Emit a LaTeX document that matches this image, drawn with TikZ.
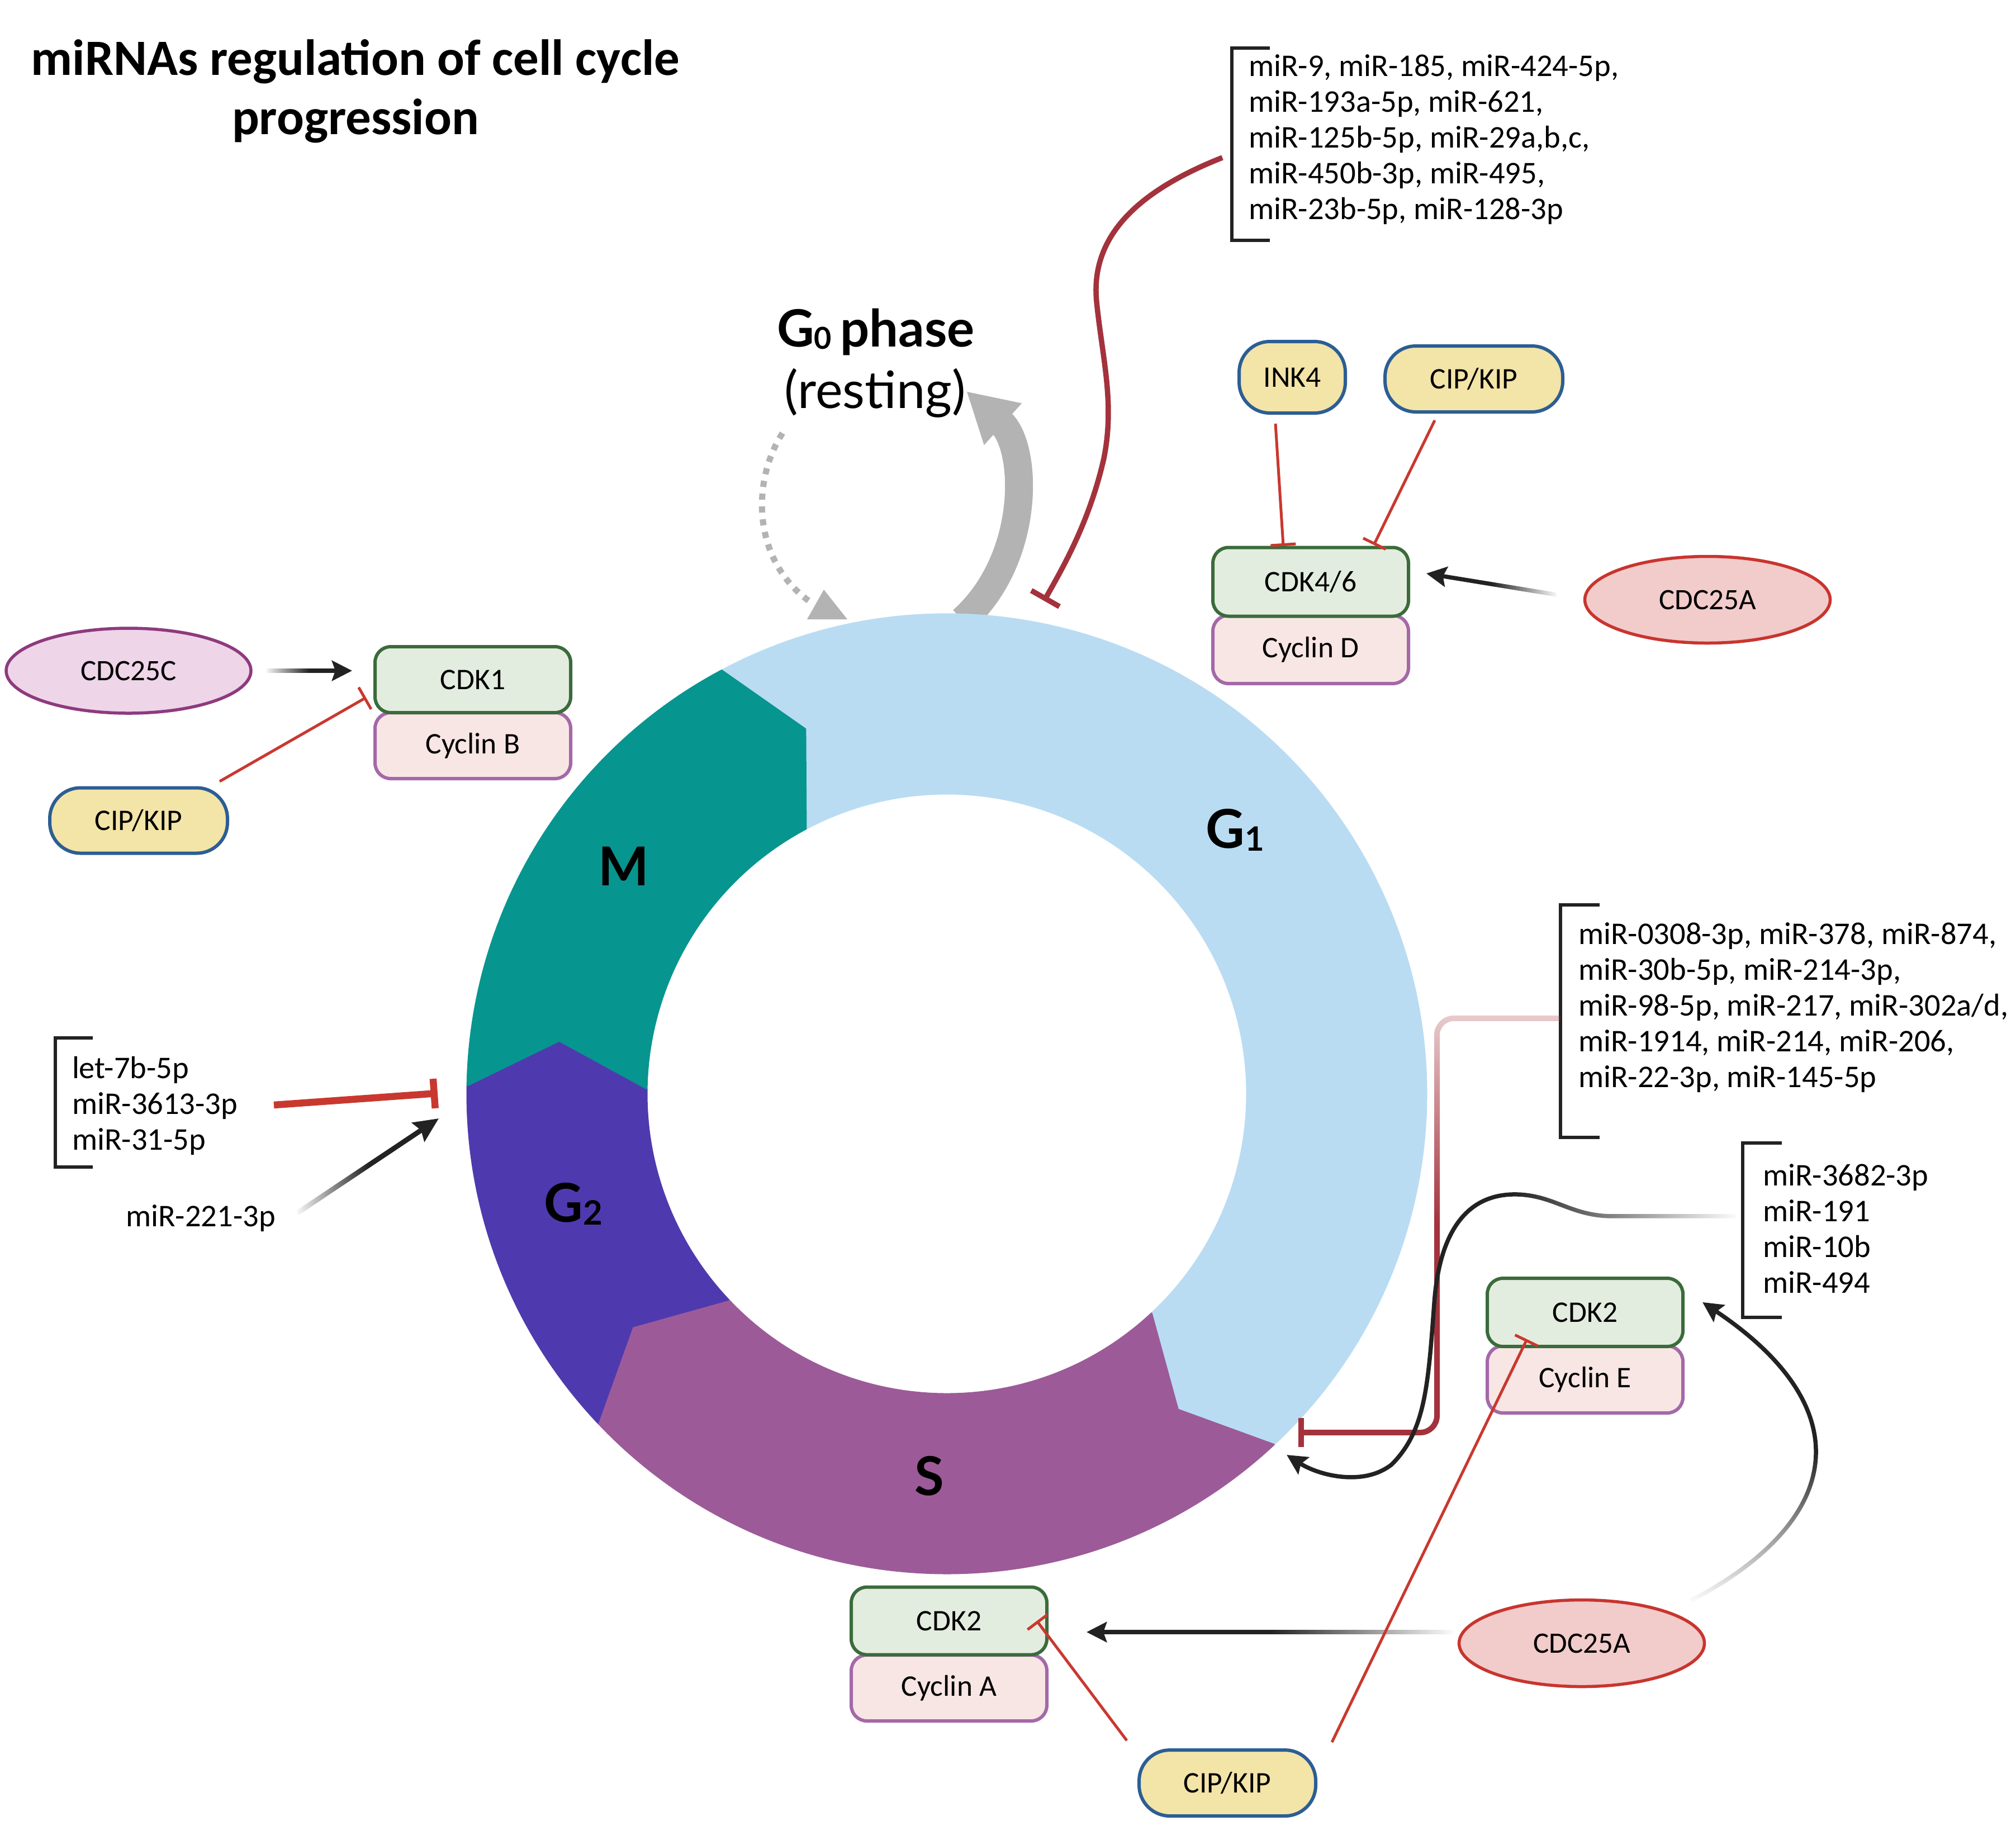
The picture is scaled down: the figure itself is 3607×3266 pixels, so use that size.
\documentclass[tikz,border=0pt]{standalone}
\usepackage{fontspec}
\setmainfont{Carlito}
\newfontfamily\latofont{Lato}
\usetikzlibrary{arrows.meta,shapes.geometric,fadings}

\definecolor{gonecol}{HTML}{B9DCF3}
\definecolor{mcol}{HTML}{07958F}
\definecolor{gtwocol}{HTML}{4E3AAE}
\definecolor{scol}{HTML}{9C5B98}
\definecolor{cdkfill}{HTML}{E3EDDF}
\definecolor{cdkline}{HTML}{3B6B3B}
\definecolor{cycfill}{HTML}{F8E6E4}
\definecolor{cycline}{HTML}{A468A8}
\definecolor{pillfill}{HTML}{F3E4A8}
\definecolor{pillline}{HTML}{2C5E94}
\definecolor{cdcafill}{HTML}{F2CBCB}
\definecolor{cdcaline}{HTML}{C8352E}
\definecolor{cdccfill}{HTML}{EED5E8}
\definecolor{cdccline}{HTML}{8E3A7E}
\definecolor{inhred}{HTML}{C9382F}
\definecolor{darkred}{HTML}{A3323C}
\definecolor{arrowgray}{HTML}{B3B3B3}
\definecolor{ink}{HTML}{222222}

\tikzfading[name=fadeeasthalf, left color=transparent!0, right color=transparent!100, middle color=transparent!0]
\tikzfading[name=fadewesthalf, left color=transparent!100, right color=transparent!0, middle color=transparent!0]
\tikzfading[name=fadesouthhalf, top color=transparent!0, bottom color=transparent!100, middle color=transparent!0]
\tikzfading[name=redelbow, top color=transparent!75, bottom color=transparent!0, middle color=transparent!0]

\newcommand\ringseg[3]{%
  \path[fill=#1, draw=#1, line width=0.3pt, line join=round]
    (#2:858) arc[start angle=#2, end angle=#3, radius=858]
    -- ({#3-6.8}:700) -- (#3:537)
    arc[start angle=#3, end angle=#2, radius=537]
    -- ({#2-6.8}:700) -- cycle;}
\newcommand\subdig[2]{\raisebox{-0.45pt}{\fontsize{#1}{#1}\selectfont #2}}

\begin{document}
\begin{tikzpicture}[x=0.1pt,y=-0.1pt,
  cdkbox/.style={draw=cdkline, fill=cdkfill, line width=0.6pt, rounded corners=2.8pt,
    minimum width=35pt, minimum height=12.2pt, inner sep=0pt, font=\fontsize{5.35}{6.2}\selectfont},
  cycbox/.style={draw=cycline, fill=cycfill, line width=0.6pt, rounded corners=2.8pt,
    minimum width=35pt, minimum height=12pt, inner sep=0pt, font=\fontsize{5.35}{6.2}\selectfont},
  pill/.style={draw=pillline, fill=pillfill, line width=0.6pt, rounded corners=5.5pt,
    minimum height=11.8pt, inner sep=0pt, font=\fontsize{5.35}{6.2}\selectfont},
  cdcA/.style={ellipse, draw=cdcaline, fill=cdcafill, line width=0.55pt,
    minimum width=43.9pt, minimum height=15.5pt, inner sep=0pt, font=\fontsize{5.3}{6.2}\selectfont},
  mirlist/.style={anchor=west, align=left, inner sep=0pt, font=\fontsize{5.65}{6.4}\selectfont},
  bracketline/.style={draw=ink, line width=0.65pt},
  inh/.style={draw=inhred, line width=0.5pt, -{Bar[width=4.5pt]}},
  act/.style={draw=ink, line width=0.75pt, -{Stealth[length=3.6pt,width=3.6pt,inset=0.6pt]}},
  phaselabel/.style={font=\latofont\bfseries\fontsize{9.6}{11}\selectfont, inner sep=0pt}]

\fill[white] (0,0) rectangle (3607,3266);
\useasboundingbox (0,0) rectangle (3607,3266);

% ---- title
\node[anchor=base, inner sep=0pt, font=\bfseries\fontsize{9.1}{10.6}\selectfont] (title1) at (636,134) {miRNAs regulation of cell cycle};
\node[anchor=base, inner sep=0pt, font=\bfseries\fontsize{9.1}{10.6}\selectfont] (title2) at (636,240) {progression};

% ---- G0
\node[anchor=base, inner sep=0pt, font=\latofont\bfseries\fontsize{9.2}{11}\selectfont] (g0a) at (1567,620) {G\subdig{5.4}{0}\,phase};
\node[anchor=base, inner sep=0pt, font=\latofont\fontsize{9.2}{11}\selectfont] (g0b) at (1566,730) {(resting)};

\coordinate (dotS) at (1400,775);
\coordinate (dotE) at (1447,1075);
\draw[arrowgray, line width=1.1pt, dash pattern=on 1.1pt off 1.2pt] (dotS) .. controls (1345,860) and (1345,1000) .. (dotE);
\coordinate (triA) at (1474,1055);
\coordinate (triB) at (1444,1108);
\coordinate (triC) at (1516,1108);
\fill[arrowgray] (triA) -- (triB) -- (triC) -- cycle;

\coordinate (thS) at (1722,1110);
\coordinate (thE) at (1729,700);
\draw[arrowgray, line width=5pt, -{Triangle[length=8.8pt,width=9.4pt]}] (thS) .. controls (1845,1000) and (1840,800) .. (thE);

% ---- ring
\begin{scope}[shift={(1694,1957)}, yscale=-1]
  \ringseg{gonecol}{118}{-47}
  \ringseg{scol}{-47}{-136.7}
  \ringseg{gtwocol}{-136.7}{-181}
  \ringseg{mcol}{-181}{-242}
\end{scope}

\node[phaselabel] (lg1) at (2210,1485) {G\subdig{6}{1}};
\node[phaselabel] (lm) at (1116,1550) {M};
\node[phaselabel] (lg2) at (1026,2154) {G\subdig{6}{2}};
\node[phaselabel] (ls) at (1663,2641) {S};

% ---- top list
\node[mirlist] (listA) at (2232,250) {miR-9, miR-185, miR-424-5p,\\miR-193a-5p, miR-621,\\miR-125b-5p, miR-29a,b,c,\\miR-450b-3p, miR-495,\\miR-23b-5p, miR-128-3p};
\coordinate (bA1) at (2272,86); \coordinate (bA2) at (2204,86);
\coordinate (bA3) at (2204,430); \coordinate (bA4) at (2272,430);
\draw[bracketline] (bA1) -- (bA2) -- (bA3) -- (bA4);

\coordinate (rcS) at (2187,282);
\coordinate (rcE) at (1868,1075);
\draw[darkred, line width=0.95pt, -{Bar[width=5.8pt]}] (rcS) .. controls (2040,340) and (1950,420) .. (1962,540) .. controls (1972,640) and (1995,720) .. (1975,820) .. controls (1950,930) and (1905,1010) .. (rcE);

% ---- CDK4/6 group
\node[pill, minimum width=19pt, minimum height=12.8pt] (ink4) at (2312,675) {INK4};
\node[pill, minimum width=31.8pt] (cipT) at (2637,678) {CIP/KIP};
\node[cycbox, minimum height=12.2pt] (cycD) at (2345,1162) {Cyclin D};
\node[cdkbox, minimum height=12.3pt] (cdk46) at (2345,1041) {CDK4/6};
\node[cdcA] (cdcaT) at (3055,1073) {CDC25A};

\coordinate (i1s) at (2282,758); \coordinate (i1e) at (2296,977);
\draw[inh] (i1s) -- (i1e);
\coordinate (i2s) at (2567,752); \coordinate (i2e) at (2458,975);
\draw[inh] (i2s) -- (i2e);
\coordinate (a1s) at (2785,1064); \coordinate (a1e) at (2552,1026);
\draw[act, path fading=fadeeasthalf] (a1s) -- (a1e);

% ---- CDK1 group
\node[ellipse, draw=cdccline, fill=cdccfill, line width=0.55pt, minimum width=43.8pt, minimum height=15.2pt, inner sep=0pt, font=\fontsize{5.3}{6.2}\selectfont] (cdc25c) at (230,1200) {CDC25C};
\node[cycbox, minimum height=11.8pt] (cycB) at (846,1334) {Cyclin B};
\node[cdkbox, minimum height=11.8pt] (cdk1) at (846,1216) {CDK1};
\node[pill, minimum width=31.8pt, minimum height=11.7pt] (cipL) at (248,1468) {CIP/KIP};

\coordinate (c1s) at (477,1200); \coordinate (c1e) at (630,1200);
\draw[act, path fading=fadewesthalf] (c1s) ++(0,-20) ++(0,40) (c1s) -- (c1e);
\coordinate (i3s) at (393,1398); \coordinate (i3e) at (655,1248);
\draw[inh] (i3s) -- (i3e);

% ---- left list
\node[mirlist] (listD) at (127,1978) {let-7b-5p\\miR-3613-3p\\miR-31-5p};
\coordinate (bD1) at (166,1857); \coordinate (bD2) at (99,1857);
\coordinate (bD3) at (99,2088); \coordinate (bD4) at (166,2088);
\draw[bracketline] (bD1) -- (bD2) -- (bD3) -- (bD4);
\coordinate (i4s) at (490,1977); \coordinate (i4e) at (783,1956);
\draw[inhred, line width=1.25pt, -{Bar[width=5.3pt]}] (i4s) -- (i4e);

\node[inner sep=0pt, font=\fontsize{5.65}{6.4}\selectfont] (mir221) at (359,2180) {miR-221-3p};
\coordinate (a2s) at (532,2170); \coordinate (a2e) at (785,2001);
\draw[act, line width=0.9pt, -{Stealth[length=4.4pt,width=4pt,inset=0.6pt]}, path fading=fadewesthalf] (a2s) -- (a2e);

% ---- right middle list
\node[mirlist] (listB) at (2822,1803) {miR-0308-3p, miR-378, miR-874,\\miR-30b-5p, miR-214-3p,\\miR-98-5p, miR-217, miR-302a/d,\\miR-1914, miR-214, miR-206,\\miR-22-3p, miR-145-5p};
\coordinate (bB1) at (2862,1619); \coordinate (bB2) at (2792,1619);
\coordinate (bB3) at (2792,2035); \coordinate (bB4) at (2862,2035);
\draw[bracketline] (bB1) -- (bB2) -- (bB3) -- (bB4);

\coordinate (e1s) at (2792,1822); \coordinate (e1e) at (2323,2563);
\draw[darkred, line width=1pt, rounded corners=3pt, path fading=redelbow, -{Bar[width=5.2pt]}] (e1s) -- (2571,1822) -- (2571,2563) -- (e1e);

% ---- lower right list
\node[mirlist] (listC) at (3152,2198) {miR-3682-3p\\miR-191\\miR-10b\\miR-494};
\coordinate (bC1) at (3188,2045); \coordinate (bC2) at (3118,2045);
\coordinate (bC3) at (3118,2357); \coordinate (bC4) at (3188,2357);
\draw[bracketline] (bC1) -- (bC2) -- (bC3) -- (bC4);

\coordinate (w1s) at (3107,2176); \coordinate (w1e) at (2302,2603);
\draw[act, path fading=fadeeasthalf] (w1s) -- (2885,2176) .. controls (2810,2176) and (2780,2138) .. (2712,2137) .. controls (2620,2136) and (2575,2210) .. (2566,2330) .. controls (2555,2480) and (2550,2560) .. (2490,2620) .. controls (2440,2660) and (2360,2640) .. (w1e);

% ---- CDK2 / Cyclin E group
\node[cycbox] (cycE) at (2836,2468) {Cyclin E};
\node[cdkbox] (cdk2E) at (2836,2348) {CDK2};
\node[cdcA] (cdcaB) at (2830,2940) {CDC25A};

% ---- CDK2 / Cyclin A group
\node[cycbox, minimum height=11.8pt] (cycA) at (1698,3020) {Cyclin A};
\node[cdkbox, minimum height=12.1pt] (cdk2A) at (1698,2900) {CDK2};
\node[pill, minimum width=31.6pt] (cipB) at (2196,3190) {CIP/KIP};

\coordinate (a3s) at (2600,2920); \coordinate (a3e) at (1944,2920);
\draw[act, path fading=fadeeasthalf] (a3s) ++(0,-20) ++(0,40) (a3s) -- (a3e);
\coordinate (a4s) at (3025,2864); \coordinate (a4e) at (3046,2330);
\draw[act, path fading=fadesouthhalf] (a4s) .. controls (3300,2720) and (3330,2520) .. (a4e);
\coordinate (i5s) at (2016,3114); \coordinate (i5e) at (1855,2900);
\draw[inh] (i5s) -- (i5e);
\coordinate (i6s) at (2383,3117); \coordinate (i6e) at (2732,2396);
\draw[inh] (i6s) -- (i6e);

\end{tikzpicture}
\end{document}
